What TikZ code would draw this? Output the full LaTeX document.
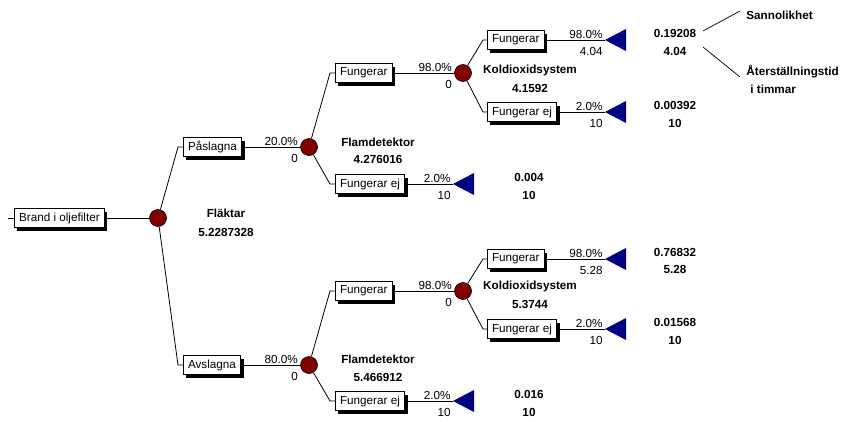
\documentclass[tikz,border=0pt]{standalone}
\usepackage{fontspec}
\setmainfont{Liberation Sans}
\usetikzlibrary{shadows}
\definecolor{chancefill}{RGB}{128,0,0}
\definecolor{termfill}{RGB}{0,0,128}

\begin{document}
\begin{tikzpicture}[x=1pt,y=-1pt,
  font=\fontsize{11.7}{13}\selectfont,
  line width=0.8pt,
  branch/.style={draw, fill=white, line width=0.7pt, inner xsep=4.7pt, inner ysep=0pt,
    minimum height=19pt, anchor=west,
    drop shadow={shadow xshift=3pt, shadow yshift=-3pt, opacity=1, fill=black}},
  chancenode/.style={circle, draw, fill=chancefill, line width=0.6pt, minimum size=17pt, inner sep=0pt},
  prob/.style={anchor=base east, inner sep=0pt},
  val/.style={anchor=base east, inner sep=0pt},
  lbl/.style={font=\fontsize{11.7}{13}\selectfont\bfseries, inner sep=0pt},
  note/.style={font=\fontsize{11.7}{13}\selectfont\bfseries, inner sep=0pt, anchor=west},
  leaf/.style={fill=termfill}
]
\useasboundingbox (0,0) rectangle (841,421);

% ---------- nodes ----------
\coordinate (in) at (8,218);
\node[branch] (root) at (14,218) {Brand i oljefilter};
\node[chancenode] (c1) at (158,218) {};

\node[branch] (pas) at (183,147) {Påslagna};
\node[branch] (avs) at (183,365) {Avslagna};
\node[chancenode] (c2) at (309,147) {};
\node[chancenode] (c4) at (309,365) {};

\node[branch] (f1)  at (335,73)  {Fungerar};
\node[branch] (fe1) at (335,184) {Fungerar ej};
\node[branch] (f2)  at (335,291) {Fungerar};
\node[branch] (fe2) at (335,401) {Fungerar ej};
\node[chancenode] (c3) at (463,73) {};
\node[chancenode] (c5) at (463,291) {};
\coordinate (t1) at (453,184);
\coordinate (t2) at (453,401);

\node[branch] (f11)  at (487,40)  {Fungerar};
\node[branch] (fe11) at (487,112) {Fungerar ej};
\node[branch] (f21)  at (487,259) {Fungerar};
\node[branch] (fe21) at (487,329) {Fungerar ej};
\coordinate (t11) at (605,40);
\coordinate (t12) at (605,112);
\coordinate (t21) at (605,259);
\coordinate (t22) at (605,329);

% ---------- connectors ----------
\draw (in) -- (root.west);
\draw (root.east) -- (c1);
\draw (c1) -- ([xshift=-5pt]pas.west) -- (pas.west);
\draw (c1) -- ([xshift=-5pt]avs.west) -- (avs.west);
\draw (pas.east) -- (c2);
\draw (avs.east) -- (c4);
\draw (c2) -- ([xshift=-5pt]f1.west) -- (f1.west);
\draw (c2) -- ([xshift=-5pt]fe1.west) -- (fe1.west);
\draw (c4) -- ([xshift=-5pt]f2.west) -- (f2.west);
\draw (c4) -- ([xshift=-5pt]fe2.west) -- (fe2.west);
\draw (f1.east) -- (c3);
\draw (f2.east) -- (c5);
\draw (fe1.east) -- (t1);
\draw (fe2.east) -- (t2);
\draw (c3) -- ([xshift=-4pt]f11.west) -- (f11.west);
\draw (c3) -- ([xshift=-4pt]fe11.west) -- (fe11.west);
\draw (c5) -- ([xshift=-4pt]f21.west) -- (f21.west);
\draw (c5) -- ([xshift=-4pt]fe21.west) -- (fe21.west);
\draw (f11.east) -- (t11);
\draw (fe11.east) -- (t12);
\draw (f21.east) -- (t21);
\draw (fe21.east) -- (t22);

% terminal triangles
\foreach \t in {t1,t2,t11,t12,t21,t22}
  \fill[leaf] (\t) -- ++(21,-11) -- ++(0,22) -- cycle;

% ---------- probabilities and values on branches ----------
\node[prob] at ([xshift=-2pt,yshift=2pt]c2.west) {20.0\%};
\node[val]  at ([xshift=-2pt,yshift=-15pt]c2.west) {0};
\node[prob] at ([xshift=-2pt,yshift=2pt]c4.west) {80.0\%};
\node[val]  at ([xshift=-2pt,yshift=-15pt]c4.west) {0};
\node[prob] at ([xshift=-2pt,yshift=2pt]c3.west) {98.0\%};
\node[val]  at ([xshift=-2pt,yshift=-15pt]c3.west) {0};
\node[prob] at ([xshift=-2pt,yshift=2pt]c5.west) {98.0\%};
\node[val]  at ([xshift=-2pt,yshift=-15pt]c5.west) {0};
\node[prob] at ([xshift=-2pt,yshift=2pt]t1) {2.0\%};
\node[val]  at ([xshift=-2pt,yshift=-15pt]t1) {10};
\node[prob] at ([xshift=-2pt,yshift=2pt]t2) {2.0\%};
\node[val]  at ([xshift=-2pt,yshift=-15pt]t2) {10};
\node[prob] at ([xshift=-2pt,yshift=2pt]t11) {98.0\%};
\node[val]  at ([xshift=-2pt,yshift=-15pt]t11) {4.04};
\node[prob] at ([xshift=-2pt,yshift=2pt]t12) {2.0\%};
\node[val]  at ([xshift=-2pt,yshift=-15pt]t12) {10};
\node[prob] at ([xshift=-2pt,yshift=2pt]t21) {98.0\%};
\node[val]  at ([xshift=-2pt,yshift=-15pt]t21) {5.28};
\node[prob] at ([xshift=-2pt,yshift=2pt]t22) {2.0\%};
\node[val]  at ([xshift=-2pt,yshift=-15pt]t22) {10};

% ---------- chance node names and expected values ----------
\node[lbl] at (226,213) {Fläktar};
\node[lbl] at (226,232) {5.2287328};
\node[lbl] at (378,142) {Flamdetektor};
\node[lbl] at (378,159) {4.276016};
\node[lbl] at (378,359) {Flamdetektor};
\node[lbl] at (378,377) {5.466912};
\node[lbl] at (530,70) {Koldioxidsystem};
\node[lbl] at (530,88) {4.1592};
\node[lbl] at (530,286) {Koldioxidsystem};
\node[lbl] at (530,304) {5.3744};

% ---------- end results ----------
\node[lbl] at (529,177) {0.004};
\node[lbl] at (529,195) {10};
\node[lbl] at (529,394) {0.016};
\node[lbl] at (529,412) {10};
\node[lbl] (r11) at (675,33) {0.19208};
\node[lbl] (r11b) at (675,51) {4.04};
\node[lbl] at (675,105) {0.00392};
\node[lbl] at (675,123) {10};
\node[lbl] at (675,252) {0.76832};
\node[lbl] at (675,269) {5.28};
\node[lbl] at (675,322) {0.01568};
\node[lbl] at (675,340) {10};

% ---------- legend ----------
\node[note] (sann) at (746,15) {Sannolikhet};
\node[note] (ater) at (746,72) {Återställningstid};
\node[note] (tim)  at (750,89) {i timmar};
\coordinate (p1) at (703,31);
\coordinate (p2) at (703,47);
\draw[line width=0.7pt] (p1) -- ([xshift=-6pt,yshift=4pt]sann.west);
\draw[line width=0.7pt] (p2) -- ([xshift=-6pt,yshift=-5pt]ater.west);
\end{tikzpicture}
\end{document}
